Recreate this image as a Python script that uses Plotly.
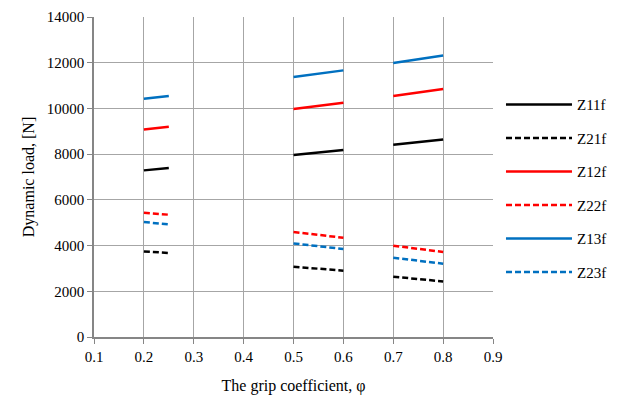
import plotly.graph_objects as go

# grip coefficient segments (None separates the three segments)
phi = [0.2, 0.25, None, 0.5, 0.6, None, 0.7, 0.8]

Z11f = [7290, 7390, None, 7960, 8180, None, 8410, 8640]
Z21f = [3745, 3675, None, 3075, 2900, None, 2640, 2430]
Z12f = [9080, 9200, None, 9975, 10250, None, 10545, 10850]
Z22f = [5440, 5350, None, 4595, 4340, None, 3995, 3720]
Z13f = [10425, 10545, None, 11375, 11665, None, 11990, 12320]
Z23f = [5030, 4925, None, 4095, 3850, None, 3470, 3205]

series = [
    ("Z11f", Z11f, "#000000", "solid"),
    ("Z21f", Z21f, "#000000", "6px,3px"),
    ("Z12f", Z12f, "#FF0000", "solid"),
    ("Z22f", Z22f, "#FF0000", "6px,3px"),
    ("Z13f", Z13f, "#0070C0", "solid"),
    ("Z23f", Z23f, "#0070C0", "6px,3px"),
]

x_ticks = [0.1, 0.2, 0.3, 0.4, 0.5, 0.6, 0.7, 0.8, 0.9]
y_ticks = [0, 2000, 4000, 6000, 8000, 10000, 12000, 14000]

fig = go.Figure()
for name, vals, color, dash in series:
    fig.add_trace(go.Scatter(
        x=phi, y=vals, name=name, mode="lines",
        line=dict(color=color, width=2.5, dash=dash),
        connectgaps=False, legendgroup=name,
    ))

ff = "Liberation Serif, Times New Roman, serif"
tick_font = dict(family=ff, size=15, color="#000000")
fig.update_layout(
    width=626, height=398,
    margin=dict(l=94, r=133, t=17, b=61),
    paper_bgcolor="white", plot_bgcolor="white",
    font=dict(family=ff, size=15, color="#000000"),
    showlegend=True,
    legend=dict(
        x=1.02, xanchor="left", y=0.465, yanchor="middle",
        font=dict(family=ff, size=15, color="#000000"),
        itemwidth=66, tracegroupgap=11, bgcolor="rgba(0,0,0,0)",
    ),
    xaxis=dict(
        range=[0.1, 0.9], tickvals=x_ticks, ticktext=[f"{v:.1f}" for v in x_ticks],
        tickfont=tick_font, automargin=False,
        showgrid=True, gridcolor="#a6a6a6", gridwidth=1,
        showline=True, linecolor="#868686", linewidth=1.5,
        ticks="outside", ticklen=5, tickcolor="#868686",
        zeroline=False,
        title=dict(text="The grip coefficient, φ", font=dict(family=ff, size=16), standoff=16),
    ),
    yaxis=dict(
        range=[0, 14000], tickvals=y_ticks, ticktext=[str(v) for v in y_ticks],
        tickfont=tick_font, automargin=False,
        showgrid=True, gridcolor="#a6a6a6", gridwidth=1,
        showline=True, linecolor="#868686", linewidth=1.5,
        ticks="outside", ticklen=5, tickcolor="#868686",
        zeroline=False,
        title=dict(text="Dynamic load, [N]", font=dict(family=ff, size=16), standoff=8),
    ),
)

fig.write_html("out.html")
